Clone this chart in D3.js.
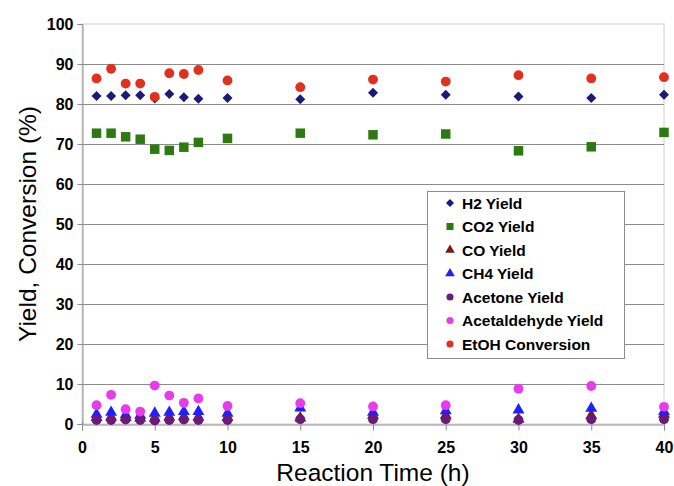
<!DOCTYPE html>
<html>
<head>
<meta charset="utf-8">
<script src="https://cdn.jsdelivr.net/npm/d3@7"></script>
<style>
  body { margin: 0; background: #fff; }
  svg { display: block; font-family: "Liberation Sans", Arial, sans-serif; }
</style>
</head>
<body>
<svg id="chart" width="674" height="486"></svg>
<script>
// Reaction time (h) for each sample
const hours = [1, 2, 3, 4, 5, 6, 7, 8, 10, 15, 20, 25, 30, 35, 40];

// Yields and conversion (%)
const h2Yield = [82.0, 82.0, 82.2, 82.2, 81.4, 82.5, 81.7, 81.3, 81.5, 81.2, 82.8, 82.3, 81.9, 81.5, 82.3];
const co2Yield = [72.7, 72.7, 71.8, 71.2, 68.7, 68.4, 69.2, 70.4, 71.4, 72.7, 72.3, 72.5, 68.3, 69.3, 72.9];
const coYield = [1.6, 1.7, 1.6, 1.5, 1.4, 1.7, 1.8, 1.7, 1.6, 1.5, 2.2, 2.2, 1.2, 2.1, 2.4];
const ch4Yield = [2.4, 2.9, 2.3, 2.2, 2.7, 2.9, 3.1, 3.1, 2.7, 4.0, 2.9, 3.3, 3.5, 3.9, 3.1];
const acetoneYield = [1.0, 1.0, 1.1, 1.0, 0.9, 1.0, 1.1, 1.0, 1.0, 1.2, 1.2, 1.2, 1.0, 1.2, 1.2];
const acetaldehydeYield = [4.7, 7.3, 3.7, 3.1, 9.6, 7.1, 5.3, 6.4, 4.5, 5.2, 4.4, 4.7, 8.8, 9.5, 4.3];
const etohConversion = [86.4, 88.8, 85.1, 85.1, 81.8, 87.7, 87.5, 88.5, 85.9, 84.2, 86.1, 85.6, 87.2, 86.4, 86.7];

const xTicks = [0, 5, 10, 15, 20, 25, 30, 35, 40];
const yTicks = [0, 10, 20, 30, 40, 50, 60, 70, 80, 90, 100];

const series = [
  { name: "H2 Yield", values: h2Yield, color: "#1a1a78", shape: "diamond" },
  { name: "CO2 Yield", values: co2Yield, color: "#2e7a12", shape: "square" },
  { name: "CO Yield", values: coYield, color: "#7a1a10", shape: "triangle" },
  { name: "CH4 Yield", values: ch4Yield, color: "#1f1fff", shape: "triangle" },
  { name: "Acetone Yield", values: acetoneYield, color: "#6a1a78", shape: "circle" },
  { name: "Acetaldehyde Yield", values: acetaldehydeYield, color: "#e83ce8", shape: "circle" },
  { name: "EtOH Conversion", values: etohConversion, color: "#e0301e", shape: "circle" }
];

const svg = d3.select("#chart");
const margin = { left: 82, right: 674 - 664, top: 24, bottom: 486 - 424 };
const width = 674 - margin.left - margin.right;
const height = 486 - margin.top - margin.bottom;

const x = d3.scaleLinear().domain([0, 40]).range([margin.left, margin.left + width]);
const y = d3.scaleLinear().domain([0, 100]).range([margin.top + height, margin.top]);

// Plot frame
svg.append("rect")
  .attr("x", x(0)).attr("y", y(100))
  .attr("width", x(40) - x(0)).attr("height", y(0) - y(100))
  .attr("fill", "none").attr("stroke", "#d0d0d0").attr("stroke-width", 1);

// Horizontal gridlines
svg.append("g")
  .selectAll("line")
  .data(yTicks.filter(d => d > 0 && d < 100))
  .join("line")
  .attr("x1", x(0)).attr("x2", x(40))
  .attr("y1", d => Math.round(y(d)) + 0.5).attr("y2", d => Math.round(y(d)) + 0.5)
  .attr("stroke", "#8c8c8c").attr("stroke-width", 1);

// Axes
const yAxis = svg.append("g")
  .attr("transform", `translate(${x(0) + 0.5},0)`)
  .call(d3.axisLeft(y).tickValues(yTicks).tickSize(5).tickPadding(4));
const xAxis = svg.append("g")
  .attr("transform", `translate(0,${Math.round(y(0)) + 0.5})`)
  .call(d3.axisBottom(x).tickValues(xTicks).tickSize(6).tickPadding(11));

[yAxis, xAxis].forEach(g => {
  g.select(".domain").attr("stroke", "#8c8c8c");
  g.selectAll(".tick line").attr("stroke", "#8c8c8c");
  g.selectAll("text")
    .attr("font-family", "Liberation Sans, Arial, sans-serif")
    .attr("font-size", 16).attr("font-weight", "bold").attr("fill", "#000");
});
// X ticks cross the axis line slightly
xAxis.selectAll(".tick line").attr("y1", -3);

// Axis titles
svg.append("text")
  .attr("x", (x(0) + x(40)) / 2).attr("y", 481)
  .attr("text-anchor", "middle")
  .attr("font-size", 24.5).attr("fill", "#000")
  .text("Reaction Time (h)");
svg.append("text")
  .attr("transform", `translate(36,${(y(0) + y(100)) / 2}) rotate(-90)`)
  .attr("text-anchor", "middle")
  .attr("font-size", 24.5).attr("fill", "#000")
  .text("Yield, Conversion (%)");

// Marker symbols; the diamond is a square turned by 45 degrees
const diamond = size => {
  const r = Math.sqrt(size / 2);
  return `M0,${-r}L${r},0L0,${r}L${-r},0Z`;
};
const symbolFor = {
  diamond: () => diamond(50),
  square: d3.symbol().type(d3.symbolSquare).size(90),
  triangle: d3.symbol().type(d3.symbolTriangle).size(62),
  circle: d3.symbol().type(d3.symbolCircle).size(76)
};

const marks = svg.append("g");
series.forEach(s => {
  marks.append("g")
    .selectAll("path")
    .data(hours.map((h, i) => [h, s.values[i]]))
    .join("path")
    .attr("d", symbolFor[s.shape])
    .attr("transform", d => `translate(${x(d[0])},${y(d[1])})`)
    .attr("fill", s.color);
});

// Legend
const lg = svg.append("g").attr("transform", "translate(427,191)");
lg.append("rect")
  .attr("x", 0.5).attr("y", 0.5).attr("width", 197).attr("height", 167)
  .attr("fill", "#fff").attr("stroke", "#8c8c8c");
const legendSymbol = {
  diamond: () => diamond(32),
  square: d3.symbol().type(d3.symbolSquare).size(50),
  triangle: d3.symbol().type(d3.symbolTriangle).size(40),
  circle: d3.symbol().type(d3.symbolCircle).size(40)
};
series.forEach((s, i) => {
  const row = lg.append("g").attr("transform", `translate(0,${12 + i * 23.5})`);
  row.append("path")
    .attr("d", legendSymbol[s.shape])
    .attr("transform", "translate(23,0)")
    .attr("fill", s.color);
  row.append("text")
    .attr("x", 35).attr("y", 0).attr("dy", "0.36em")
    .attr("font-size", 15.5).attr("font-weight", "bold").attr("fill", "#000")
    .text(s.name);
});
</script>
</body>
</html>
